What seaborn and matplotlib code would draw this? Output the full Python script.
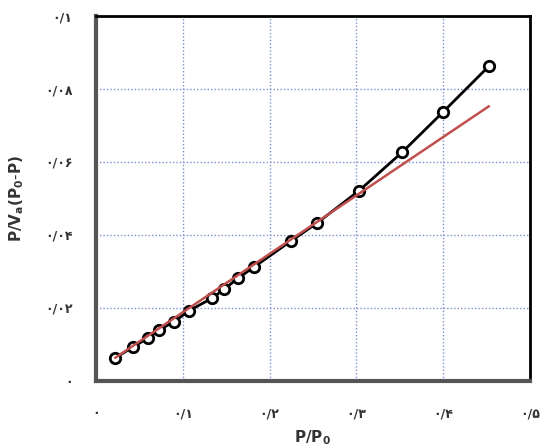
import matplotlib
matplotlib.use("Agg")
import matplotlib.pyplot as plt
import seaborn as sns
import pandas as pd

# P/P0 and P/Va(P0-P)
p_rel = [0.022, 0.043, 0.060, 0.073, 0.090, 0.107, 0.134, 0.148, 0.164, 0.182,
         0.225, 0.255, 0.303, 0.353, 0.400, 0.453]
bet_y = [0.0063, 0.0093, 0.0118, 0.0140, 0.0162, 0.0192, 0.0227, 0.0252, 0.0282, 0.0312,
         0.0384, 0.0433, 0.0521, 0.0627, 0.0737, 0.0863]

# linear BET fit (red line)
fit_x = [0.022, 0.453]
fit_y = [0.0063, 0.0753]

x_ticks = [0, 0.1, 0.2, 0.3, 0.4, 0.5]
x_labels = ["۰", "۰/۱", "۰/۲", "۰/۳", "۰/۴", "۰/۵"]
y_ticks = [0, 0.02, 0.04, 0.06, 0.08, 0.1]
y_labels = ["۰", "۰/۰۲", "۰/۰۴", "۰/۰۶", "۰/۰۸", "۰/۱"]

df = pd.DataFrame({"x": p_rel, "y": bet_y})
fit = pd.DataFrame({"x": fit_x, "y": fit_y})

sns.set_style("white")
plt.rcParams["font.family"] = ["DejaVu Sans"]

fig = plt.figure(figsize=(5.4, 4.48), dpi=100)
ax = fig.add_axes([0.178, 0.150, 0.803, 0.814])

sns.lineplot(data=df, x="x", y="y", ax=ax, color="black", lw=2, marker="o",
             markersize=7.5, markerfacecolor="white", markeredgecolor="black",
             markeredgewidth=2, zorder=3)
sns.lineplot(data=fit, x="x", y="y", ax=ax, color="#c0504d", lw=1.8, zorder=4)

ax.set_xlim(0, 0.5)
ax.set_ylim(0, 0.1)
ax.set_xticks(x_ticks)
ax.set_xticklabels(x_labels, fontweight="bold")
ax.set_yticks(y_ticks)
ax.set_yticklabels(y_labels, fontweight="bold")
ax.tick_params(axis="x", length=5, width=1, color="#555555", pad=14, labelsize=9,
               labelcolor="#333333")
ax.tick_params(axis="y", length=5, width=1, color="#555555", pad=12, labelsize=9,
               labelcolor="#333333")

ax.grid(True, color="#7d8fd0", ls=(0, (1, 1.5)), lw=1)
ax.set_axisbelow(True)

for side in ["left", "bottom"]:
    ax.spines[side].set_color("#555555")
    ax.spines[side].set_linewidth(3)
for side in ["top", "right"]:
    ax.spines[side].set_color("black")
    ax.spines[side].set_linewidth(2)

ax.set_xlabel(r"$\mathbf{P/P_0}$", fontsize=11, labelpad=6, color="#333333")
ax.set_ylabel(r"$\mathbf{P/V_a(P_0\text{-}P)}$", fontsize=11, labelpad=14, color="#333333")

fig.savefig("out.png", dpi=100)
